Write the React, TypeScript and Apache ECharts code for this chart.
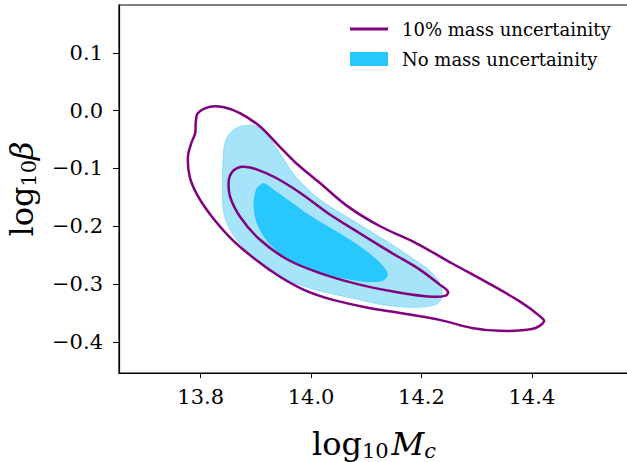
import React, { useEffect, useRef } from "react";
import * as echarts from "echarts";

// axis extents and ticks
const xMin = 13.652;
const xMax = 14.576;
const yMin = -0.454;
const yMax = 0.183;
const xTicks = [13.8, 14.0, 14.2, 14.4];
const yTicks = [-0.4, -0.3, -0.2, -0.1, 0.0, 0.1];

const seriesNames = ["10% mass uncertainity", "No mass uncertainity"];

// 10% mass uncertainty contours (outer / inner), [log10 Mc, log10 beta]
const purpleOuter: number[][] = [
  [13.817, 0.007], [13.842, 0.006], [13.871, -0.004], [13.907, -0.027],
  [13.943, -0.062], [13.972, -0.09], [14.016, -0.125], [14.067, -0.166],
  [14.125, -0.2], [14.19, -0.229], [14.255, -0.264], [14.32, -0.298],
  [14.378, -0.33], [14.411, -0.353], [14.422, -0.365], [14.4, -0.378],
  [14.342, -0.381], [14.291, -0.376], [14.233, -0.362], [14.161, -0.35],
  [14.103, -0.341], [14.038, -0.327], [13.987, -0.31], [13.943, -0.287],
  [13.9, -0.258], [13.857, -0.223], [13.82, -0.183], [13.795, -0.148],
  [13.78, -0.114], [13.777, -0.079], [13.783, -0.056], [13.79, -0.039],
  [13.791, -0.021], [13.795, -0.004],
];

const purpleInner: number[][] = [
  [13.878, -0.097], [13.9, -0.101], [13.936, -0.116], [13.98, -0.142],
  [14.03, -0.177], [14.088, -0.212], [14.146, -0.246], [14.197, -0.275],
  [14.233, -0.301], [14.248, -0.313], [14.244, -0.32], [14.219, -0.322],
  [14.161, -0.315], [14.088, -0.301], [14.016, -0.281], [13.958, -0.258],
  [13.907, -0.223], [13.871, -0.183], [13.853, -0.148], [13.851, -0.119],
  [13.857, -0.106], [13.867, -0.099],
];

// No mass uncertainty filled contours (outer / inner)
const blueOuter: number[][] = [
  [13.878, -0.026], [13.9, -0.027], [13.922, -0.044], [13.943, -0.073],
  [13.972, -0.114], [14.016, -0.154], [14.074, -0.189], [14.132, -0.223],
  [14.183, -0.255], [14.219, -0.281], [14.237, -0.31], [14.23, -0.333],
  [14.19, -0.34], [14.132, -0.336], [14.074, -0.324], [14.009, -0.31],
  [13.943, -0.287], [13.893, -0.252], [13.857, -0.212], [13.842, -0.177],
  [13.84, -0.131], [13.841, -0.079], [13.846, -0.05], [13.86, -0.033],
];

const blueInner: number[][] = [
  [13.911, -0.126], [13.9, -0.137], [13.896, -0.166], [13.904, -0.2],
  [13.929, -0.235], [13.972, -0.263], [14.03, -0.284], [14.088, -0.295],
  [14.128, -0.295], [14.139, -0.284], [14.128, -0.266], [14.096, -0.24],
  [14.052, -0.212], [14.001, -0.183], [13.958, -0.154], [13.929, -0.134],
  [13.918, -0.127],
];

const PURPLE = "#800080";
const BLUE_DARK = "#28C7FE";
const BLUE_LIGHT = "#A6E4FA";
const FONT = "DejaVu Serif";

function contour(name: string, pts: number[][], style: any, z: number) {
  return {
    type: "custom",
    name,
    coordinateSystem: "cartesian2d",
    z,
    silent: true,
    clip: false,
    data: pts,
    encode: { x: 0, y: 1 },
    renderItem: (params: any, api: any) => {
      if (params.dataIndex !== 0) return null;
      return {
        type: "polygon",
        shape: { points: pts.map((p) => api.coord(p)), smooth: 0.35 },
        style,
      };
    },
  };
}

const fmt = (v: number) => v.toFixed(1).replace("-", "\u2212");

export default function App() {
  const ref = useRef<HTMLDivElement>(null);
  useEffect(() => {
    if (!ref.current) return;
    const chart = echarts.init(ref.current, null, { renderer: "svg" });
    chart.setOption({
      animation: false,
      backgroundColor: "#ffffff",
      grid: {
        left: 119,
        top: 5,
        right: -2,
        bottom: 89,
        show: true,
        borderColor: "#000",
        borderWidth: 1.2,
        containLabel: false,
        outerBoundsMode: "none",
      },
      legend: [
        {
          left: 350,
          top: 19,
          padding: 0,
          itemWidth: 38,
          itemHeight: 3,
          icon: "rect",
          selectedMode: false,
          textStyle: { fontFamily: FONT, fontSize: 18, color: "#000", padding: [0, 0, 0, 9], lineHeight: 20 },
          data: [{ name: seriesNames[0], itemStyle: { color: PURPLE } }],
        },
        {
          left: 350,
          top: 49,
          padding: 0,
          itemWidth: 38,
          itemHeight: 14,
          icon: "rect",
          selectedMode: false,
          textStyle: { fontFamily: FONT, fontSize: 18, color: "#000", padding: [0, 0, 0, 9], lineHeight: 20 },
          data: [{ name: seriesNames[1], itemStyle: { color: BLUE_DARK } }],
        },
      ],
      xAxis: {
        type: "value",
        min: xMin,
        max: xMax,
        axisLine: { show: true, onZero: false, lineStyle: { color: "#000", width: 1.2 } },
        axisTick: { show: true, length: 5, lineStyle: { color: "#000" }, customValues: xTicks },
        axisLabel: {
          customValues: xTicks,
          formatter: fmt,
          fontFamily: FONT,
          fontSize: 21,
          color: "#000",
          margin: 13,
        },
        splitLine: { show: false },
        name: "{a|log}{b|10}{c|M}{d|c}",
        nameLocation: "middle",
        nameGap: 53,
        nameTextStyle: {
          rich: {
            a: { fontFamily: FONT, fontSize: 32, color: "#000" },
            b: { fontFamily: FONT, fontSize: 21, color: "#000", padding: [14, 3, 0, 0] },
            c: { fontFamily: FONT, fontSize: 32, fontStyle: "italic", color: "#000" },
            d: { fontFamily: FONT, fontSize: 21, fontStyle: "italic", color: "#000", padding: [14, 0, 0, 0] },
          },
        },
      },
      yAxis: {
        type: "value",
        min: yMin,
        max: yMax,
        axisLine: { show: true, onZero: false, lineStyle: { color: "#000", width: 1.2 } },
        axisTick: { show: true, length: 6, lineStyle: { color: "#000" }, customValues: yTicks },
        axisLabel: {
          customValues: yTicks,
          formatter: fmt,
          fontFamily: FONT,
          fontSize: 21,
          color: "#000",
          margin: 16,
        },
        splitLine: { show: false },
        name: "{a|log}{b|10}{c|β}",
        nameLocation: "middle",
        nameRotate: 90,
        nameGap: 80,
        nameTextStyle: {
          rich: {
            a: { fontFamily: FONT, fontSize: 32, color: "#000" },
            b: { fontFamily: FONT, fontSize: 21, color: "#000", padding: [14, 0, 0, 0] },
            c: { fontFamily: FONT, fontSize: 32, fontStyle: "italic", color: "#000" },
          },
        },
      },
      series: [
        { ...contour(seriesNames[1], blueOuter, { fill: BLUE_LIGHT, stroke: "#8EDBF7", lineWidth: 1 }, 1), itemStyle: { color: BLUE_DARK } },
        { ...contour(seriesNames[1], blueInner, { fill: BLUE_DARK, stroke: "none" }, 2), itemStyle: { color: BLUE_DARK } },
        { ...contour(seriesNames[0], purpleOuter, { fill: "none", stroke: PURPLE, lineWidth: 2.5 }, 3), itemStyle: { color: PURPLE } },
        { ...contour(seriesNames[0], purpleInner, { fill: "none", stroke: PURPLE, lineWidth: 2.5 }, 3), itemStyle: { color: PURPLE } },
      ],
    });
    return () => chart.dispose();
  }, []);
  return (
    <div
      ref={ref}
      style={{ position: "fixed", left: 0, top: 0, width: 627, height: 462 }}
    />
  );
}
